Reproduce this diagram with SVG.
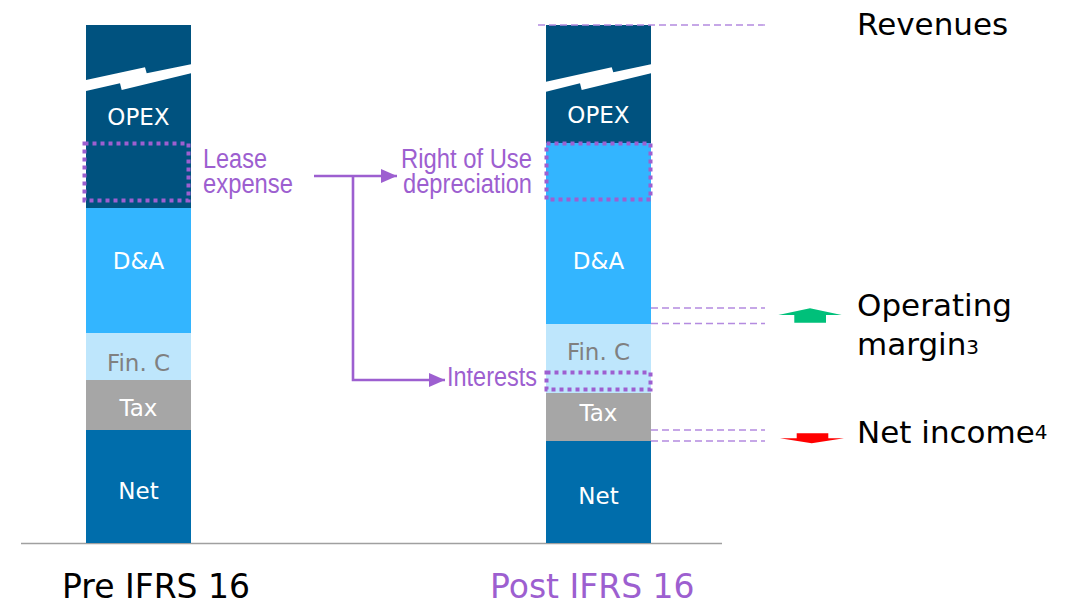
<svg xmlns="http://www.w3.org/2000/svg" width="1071" height="604" viewBox="0 0 1071 604">
<style>
.seg{stroke:none}
.dark{fill:#00527F}
.da{fill:#33B5FF}
.fin{fill:#BEE6FC}
.tax{fill:#A6A6A6}
.net{fill:#006DAB}
.lbl{font-family:"DejaVu Sans",Verdana,sans-serif;font-size:23px;text-anchor:middle;fill:#FFFFFF}
.lblg{fill:#808080}
.dot{fill:none;stroke:#9D5FD0;stroke-width:4;stroke-dasharray:4 4}
.dash{fill:none;stroke:#B48BE0;stroke-width:1.3;stroke-dasharray:7 4}
.conn{fill:none;stroke:#9D5FD0;stroke-width:2.6}
.ptxt{font-family:"Liberation Sans",Arial,sans-serif;font-size:27px;fill:#9D5FD0}
.rtxt{font-family:"DejaVu Sans",Verdana,sans-serif;font-size:31px;fill:#000000}
.sup{font-size:20px}
.cap{font-family:"DejaVu Sans",Verdana,sans-serif;font-size:33px}
</style>
<defs>
<marker id="ah" viewBox="0 0 16 14" refX="16" refY="7" markerWidth="16" markerHeight="14" markerUnits="userSpaceOnUse" orient="auto">
<path d="M0,0 L16,7 L0,14 Z" fill="#9D5FD0"/>
</marker>
</defs>

<line x1="21" y1="543.5" x2="722" y2="543.5" stroke="#A0A0A0" stroke-width="1.5"/>

<g id="pre-column">
<rect class="seg dark" x="86" y="25" width="105" height="183"/>
<polygon points="86,80 145,67.3 146.7,73.3 191,64.3 191,73.3 121.7,90 120,83.3 86,91" fill="#FFFFFF"/>
<rect class="seg da" x="86" y="208" width="105" height="125"/>
<rect class="seg fin" x="86" y="333" width="105" height="47"/>
<rect class="seg tax" x="86" y="380" width="105" height="50"/>
<rect class="seg net" x="86" y="430" width="105" height="113"/>
<text class="lbl" x="138.5" y="125">OPEX</text>
<text class="lbl" x="138.5" y="269">D&amp;A</text>
<text class="lbl lblg" x="138.5" y="371">Fin. C</text>
<text class="lbl" x="138.5" y="416">Tax</text>
<text class="lbl" x="138.5" y="499">Net</text>
<rect class="dot" x="84.5" y="143.5" width="104" height="57"/>
</g>

<g id="post-column">
<rect class="seg dark" x="546" y="25" width="105" height="118"/>
<polygon points="546,81.7 611.7,67.3 613.3,72.3 651,64.3 651,73.3 581.7,90 580,83.3 546,91.7" fill="#FFFFFF"/>
<rect class="seg da" x="546" y="143" width="105" height="181"/>
<rect class="seg fin" x="546" y="324" width="105" height="69"/>
<rect class="seg tax" x="546" y="393" width="105" height="48"/>
<rect class="seg net" x="546" y="441" width="105" height="102"/>
<text class="lbl" x="598.5" y="123">OPEX</text>
<text class="lbl" x="598.5" y="269">D&amp;A</text>
<text class="lbl lblg" x="598.5" y="360">Fin. C</text>
<text class="lbl" x="598.5" y="421">Tax</text>
<text class="lbl" x="598.5" y="504">Net</text>
<rect class="dot" x="546.5" y="143.5" width="104" height="56"/>
<rect class="dot" x="546.5" y="372.5" width="104" height="17"/>
</g>

<g id="lease-label">
<text class="ptxt" x="203" y="168" textLength="64" lengthAdjust="spacingAndGlyphs">Lease</text>
<text class="ptxt" x="203" y="193" textLength="90" lengthAdjust="spacingAndGlyphs">expense</text>
</g>
<g id="rou-label">
<text class="ptxt" x="401" y="168" textLength="131" lengthAdjust="spacingAndGlyphs">Right of Use</text>
<text class="ptxt" x="403" y="193" textLength="129" lengthAdjust="spacingAndGlyphs">depreciation</text>
</g>
<g id="interests-label">
<text class="ptxt" x="447" y="386" textLength="90" lengthAdjust="spacingAndGlyphs">Interests</text>
</g>

<g id="connectors">
<line class="conn" x1="314" y1="176" x2="397" y2="176" marker-end="url(#ah)"/>
<polyline class="conn" points="353,176 353,380 445,380" marker-end="url(#ah)"/>
<line class="dash" x1="538" y1="25" x2="765" y2="25"/>
<line class="dash" x1="651" y1="308" x2="765" y2="308"/>
<line class="dash" x1="651" y1="323.5" x2="765" y2="323.5"/>
<line class="dash" x1="651" y1="430" x2="765" y2="430"/>
<line class="dash" x1="651" y1="441" x2="765" y2="441"/>
</g>

<g id="operating-arrow">
<polygon points="810,308.3 841.7,315 826,315 826,322.7 794.3,322.7 794.3,315 778.3,315" fill="#00C07A"/>
</g>
<g id="net-arrow">
<polygon points="796.7,433.3 828.3,433.3 828.3,438.3 844,438.3 811.7,443.3 780,438.3 796.7,438.3" fill="#FF0000"/>
</g>

<g id="right-labels">
<text class="rtxt" x="857" y="35">Revenues</text>
<text class="rtxt" x="857" y="316">Operating</text>
<text class="rtxt" x="857" y="355">margin<tspan class="sup" dy="-1">3</tspan></text>
<text class="rtxt" x="857" y="443">Net income<tspan class="sup" dy="-4">4</tspan></text>
</g>

<g id="captions">
<text class="cap" x="62" y="598" fill="#000000">Pre IFRS 16</text>
<text class="cap" x="490" y="598" fill="#9D5FD0">Post IFRS 16</text>
</g>
</svg>
